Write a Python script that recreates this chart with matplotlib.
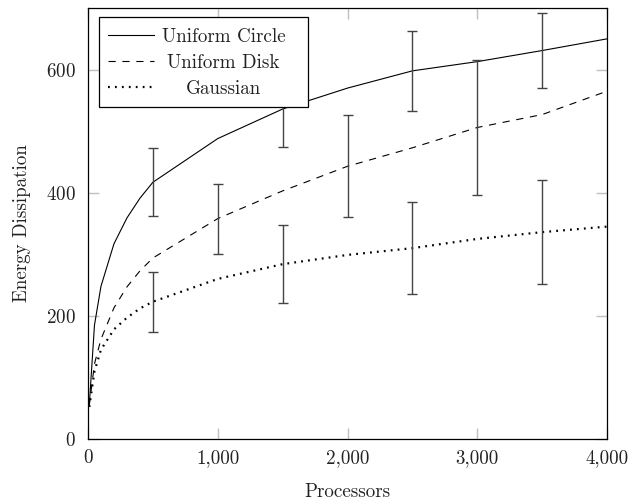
import matplotlib
matplotlib.use("Agg")
import matplotlib.pyplot as plt
from matplotlib.ticker import StrMethodFormatter
from matplotlib.lines import Line2D
from matplotlib.patches import Rectangle

plt.rcParams['font.family'] = ['cmr10', 'DejaVu Serif']
plt.rcParams['axes.formatter.use_mathtext'] = True
plt.rcParams['lines.scale_dashes'] = False

# ---- data ----
processors = [10, 50, 100, 200, 300, 400, 500, 1000, 1500, 2000, 2500, 3000, 3500, 4000]
uniform_circle = [55, 185, 248, 317, 359, 391, 417, 488, 536, 570, 598, 613, 631, 650]
uniform_disk = [55, 122, 162, 213, 247, 273, 294, 358, 403, 443, 473, 506, 527, 565]
gaussian = [52, 110, 145, 178, 197, 212, 223, 260, 284, 299, 310, 325, 336, 345]

circle_err_x = [500, 1500, 2500, 3500]
circle_err = [55, 62, 65, 61]
gaussian_err_x = [500, 1500, 2500, 3500]
gaussian_err = [49, 63, 75, 84]
disk_err_x = [1000, 2000, 3000]
disk_err = [57, 83, 109]

x_ticks = [0, 1000, 2000, 3000, 4000]
y_ticks = [0, 200, 400, 600]
series_labels = ["Uniform Circle", "Uniform Disk", "Gaussian"]

FS = 13.7

fig = plt.figure(figsize=(6.33, 5.04), dpi=100)
ax = fig.add_axes([0.139, 0.129, 0.820, 0.855])

styles = [
    dict(color='black', lw=0.8, linestyle='-'),
    dict(color='black', lw=0.8, dashes=(5.2, 4.8)),
    dict(color='black', lw=1.6, dashes=(1.3, 3.7), dash_capstyle='butt'),
]
series = [uniform_circle, uniform_disk, gaussian]
for ys, st in zip(series, styles):
    ax.plot(processors, ys, zorder=3, **st)

def centers(xs, ys):
    lookup = dict(zip(processors, ys))
    return [lookup[x] for x in xs]

for ex, ee, ys in [(circle_err_x, circle_err, uniform_circle),
                   (gaussian_err_x, gaussian_err, gaussian),
                   (disk_err_x, disk_err, uniform_disk)]:
    ax.errorbar(ex, centers(ex, ys), yerr=ee, fmt='none', ecolor='#444444',
                elinewidth=1.0, capsize=3.8, capthick=1.0, zorder=4)

ax.set_xlim(0, 4000)
ax.set_ylim(0, 700)
ax.set_xticks(x_ticks)
ax.set_yticks(y_ticks)
ax.xaxis.set_major_formatter(StrMethodFormatter('{x:,.0f}'))
ax.tick_params(direction='in', length=8, width=1, color='#c0c0c0',
               top=True, right=True, labelsize=FS, labelcolor='#222222')
ax.tick_params(axis='y', pad=8.6)
ax.tick_params(axis='x', pad=7)
for s in ax.spines.values():
    s.set_linewidth(0.9)
    s.set_zorder(5)

ax.set_xlabel("Processors", fontsize=FS, color='#222222')
ax.set_ylabel("Energy Dissipation", fontsize=FS, color='#222222')
ax.xaxis.set_label_coords(0.5, -0.102)
ax.yaxis.set_label_coords(-0.110, 0.5)

# ---- legend (centered labels, pgfplots style) ----
ax.add_patch(Rectangle((0.021, 0.770), 0.403, 0.209, transform=ax.transAxes,
                       facecolor='white', edgecolor='black', lw=0.9, zorder=10))
rows = [0.937, 0.876, 0.816]
for lab, st, ry in zip(series_labels, styles, rows):
    ax.add_line(Line2D([0.039, 0.128], [ry, ry], transform=ax.transAxes, zorder=11, **st))
    ax.text(0.261, ry, lab, transform=ax.transAxes, ha='center', va='center_baseline',
            fontsize=FS, color='#222222', zorder=11)

fig.savefig("out.png", dpi=100)
